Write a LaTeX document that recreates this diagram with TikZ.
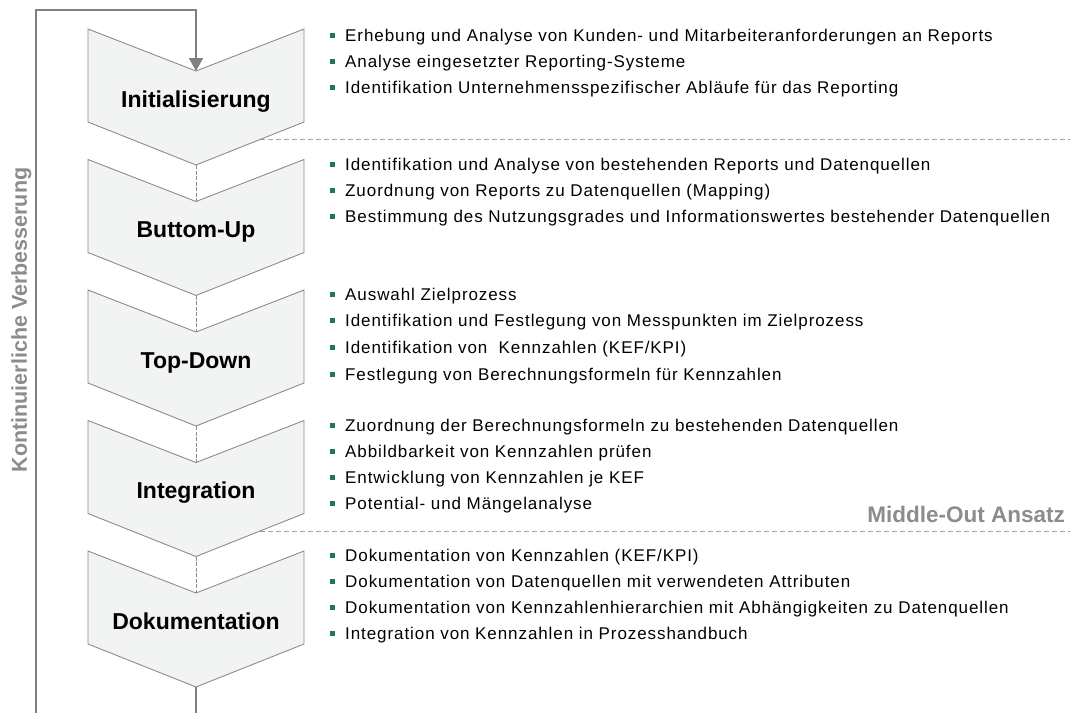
\documentclass[tikz,border=0pt]{standalone}
\usepackage{fontspec}
\setmainfont{Liberation Sans}
\newfontfamily\itemfont[LetterSpace=5.4]{Liberation Sans}
\usetikzlibrary{arrows.meta}
\definecolor{chevfill}{RGB}{242,243,243}
\definecolor{chevline}{RGB}{140,140,140}
\definecolor{loopline}{RGB}{128,128,128}
\definecolor{bulletgreen}{RGB}{30,122,78}
\definecolor{notegray}{RGB}{140,140,140}
\definecolor{sepgray}{RGB}{165,165,165}

% one bullet line: name, baseline y, text
\newcommand\bulletrow[3]{%
  \node[bullet] (q#1) at (332,#2-5.5) {};
  \node[item] (t#1) at (345,#2) {#3};}

\begin{document}
\begin{tikzpicture}[x=1pt,y=-1pt,
  chevron/.style={draw=chevline, fill=chevfill, line width=0.9pt, line join=miter},
  phase/.style={font=\fontsize{23}{27}\selectfont\bfseries, inner sep=0pt},
  item/.style={font=\itemfont\fontsize{17}{20}\selectfont, inner sep=0pt, anchor=base west},
  bullet/.style={fill=bulletgreen, minimum size=5pt, inner sep=0pt},
  link/.style={draw=chevline, line width=1pt, dash pattern=on 4pt off 1.5pt},
  loopline/.style={draw=loopline, line width=1.8pt},
  separator/.style={draw=sepgray, line width=1pt, dash pattern=on 5pt off 3pt},
  note/.style={font=\fontsize{21.5}{25}\selectfont\bfseries, text=notegray, inner sep=0pt}]

\useasboundingbox (0,0) rectangle (1070,713);

% dashed separators between the phase groups
\coordinate (s1a) at (220,139.5);
\coordinate (s1b) at (1070,139.5);
\coordinate (s2a) at (220,531);
\coordinate (s2b) at (1070,531);
\draw[separator] (s1a) -- (s1b);
\draw[separator] (s2a) -- (s2b);

% the five phase chevrons
\foreach \k/\name in {1/Initialisierung, 2/Buttom-Up, 3/Top-Down, 4/Integration, 5/Dokumentation} {
  \pgfmathsetmacro\t{29+130.5*(\k-1)}
  \draw[chevron] (88,\t) -- (196,\t+42) -- (304,\t) -- (304,\t+93)
                 -- (196,\t+136) -- (88,\t+93) -- cycle;
  \coordinate (n\k) at (196,\t+42);
  \coordinate (p\k) at (196,\t+136);
  \node[phase, anchor=base] (ph\k) at (196,\t+78) {\name};
}

% links from each chevron tip to the next notch
\foreach \k in {1,...,4} {
  \pgfmathtruncatemacro\j{\k+1}
  \draw[link] (p\k) -- (n\j);
}

% feedback loop
\coordinate (loopend) at (196,713);
\coordinate (loopbl) at (36,713);
\coordinate (looptl) at (36,10);
\coordinate (looptr) at (196,10);
\draw[loopline] (p5) -- (loopend);
\draw[loopline, -{Triangle[width=14pt,length=13pt]}] (loopbl) -- (looptl) -- (looptr) -- (n1);

\node[note, rotate=90, anchor=base] (kv) at (27,320) {Kontinuierliche Verbesserung};
\node[note, anchor=base east, font=\fontsize{22.5}{26}\selectfont\bfseries] (mo) at (1065,522.5) {Middle-Out Ansatz};

% activities per phase
\bulletrow{11}{41}{Erhebung und Analyse von Kunden- und Mitarbeiteranforderungen an Reports}
\bulletrow{12}{67}{Analyse eingesetzter Reporting-Systeme}
\bulletrow{13}{93}{Identifikation Unternehmensspezifischer Abläufe für das Reporting}

\bulletrow{21}{170}{Identifikation und Analyse von bestehenden Reports und Datenquellen}
\bulletrow{22}{196}{Zuordnung von Reports zu Datenquellen (Mapping)}
\bulletrow{23}{222}{Bestimmung des Nutzungsgrades und Informationswertes bestehender Datenquellen}

\bulletrow{31}{300}{Auswahl Zielprozess}
\bulletrow{32}{326}{Identifikation und Festlegung von Messpunkten im Zielprozess}
\bulletrow{33}{353}{Identifikation von \ Kennzahlen (KEF/KPI)}
\bulletrow{34}{380}{Festlegung von Berechnungsformeln für Kennzahlen}

\bulletrow{41}{431}{Zuordnung der Berechnungsformeln zu bestehenden Datenquellen}
\bulletrow{42}{457}{Abbildbarkeit von Kennzahlen prüfen}
\bulletrow{43}{483}{Entwicklung von Kennzahlen je KEF}
\bulletrow{44}{509}{Potential- und Mängelanalyse}

\bulletrow{51}{561}{Dokumentation von Kennzahlen (KEF/KPI)}
\bulletrow{52}{587}{Dokumentation von Datenquellen mit verwendeten Attributen}
\bulletrow{53}{613}{Dokumentation von Kennzahlenhierarchien mit Abhängigkeiten zu Datenquellen}
\bulletrow{54}{639}{Integration von Kennzahlen in Prozesshandbuch}
\end{tikzpicture}
\end{document}
